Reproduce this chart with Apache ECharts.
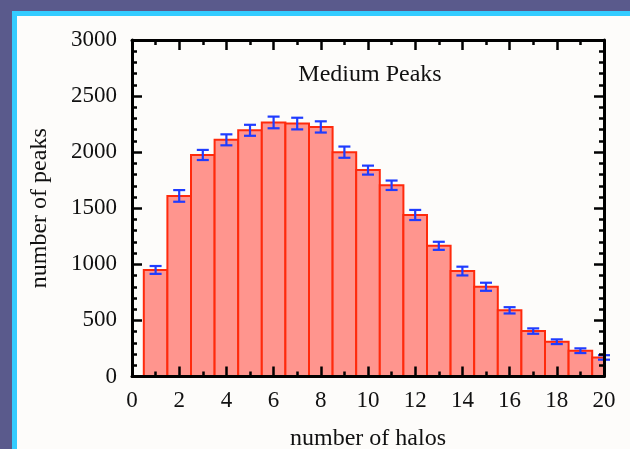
<!DOCTYPE html>
<html>
<head>
<meta charset="utf-8">
<script src="https://cdn.jsdelivr.net/npm/echarts@6/dist/echarts.min.js"></script>
<style>
  html, body { margin: 0; padding: 0; background: #5a5a8c; }
  #frame { position: absolute; left: 12px; top: 11px; width: 618px; height: 438px;
           background: #33ccff; }
  #panel { position: absolute; left: 17px; top: 16px; width: 613px; height: 433px;
           background: #fdfcfa; }
  #chart { position: absolute; left: 0; top: 0; width: 630px; height: 449px; }
</style>
</head>
<body>
<div id="frame"></div>
<div id="panel"></div>
<div id="chart"></div>
<script>
// Histogram of peaks by number of halos, with Poisson-style error bars
const halos = [1, 2, 3, 4, 5, 6, 7, 8, 9, 10, 11, 12, 13, 14, 15, 16, 17, 18, 19, 20];
const peaks = [950, 1610, 1975, 2110, 2195, 2265, 2255, 2225, 2000, 1840,
               1705, 1440, 1165, 940, 800, 590, 405, 310, 230, 170];
const errors = [35, 52, 45, 49, 49, 52, 52, 50, 50, 40,
                42, 45, 36, 39, 36, 28, 24, 21, 21, 20];
const xTicks = [0, 2, 4, 6, 8, 10, 12, 14, 16, 18, 20];
const yTicks = [0, 500, 1000, 1500, 2000, 2500, 3000];

const FONT = '"Liberation Serif", "Times New Roman", serif';
const barData = halos.map((h, i) => [h, peaks[i]]);
const errData = halos.map((h, i) => [h, peaks[i], errors[i]]);

const chart = echarts.init(document.getElementById('chart'), null, { renderer: 'canvas' });

const axisCommon = {
  axisLine: { show: true, onZero: false, lineStyle: { color: '#000', width: 3 } },
  axisTick: { show: true, inside: true, length: 10, lineStyle: { color: '#000', width: 2.5 } },
  minorTick: { show: true, length: 5, lineStyle: { color: '#000', width: 2.5 } },
  splitLine: { show: false },
  minorSplitLine: { show: false },
  z: 10
};

chart.setOption({
  backgroundColor: 'transparent',
  animation: false,
  grid: { left: 132, right: 26, top: 40, bottom: 72.5, containLabel: false, outerBoundsMode: 'none' },
  graphic: [{
    type: 'text', x: 370, y: 63, z: 20,
    style: { text: 'Medium Peaks', font: '24px ' + FONT, fill: '#111', textAlign: 'center' }
  }],
  xAxis: [
    Object.assign({}, axisCommon, {
      type: 'value', position: 'bottom', min: xTicks[0], max: xTicks[xTicks.length - 1], interval: 2,
      minorTick: Object.assign({}, axisCommon.minorTick, { splitNumber: 2 }),
      axisLabel: { color: '#111', fontSize: 23, fontFamily: FONT, margin: 13,
                   formatter: v => xTicks.includes(v) ? String(v) : '' },
      name: 'number of halos', nameLocation: 'middle', nameGap: 50,
      nameTextStyle: { color: '#111', fontSize: 24, fontFamily: FONT }
    }),
    Object.assign({}, axisCommon, {
      type: 'value', position: 'top', min: xTicks[0], max: xTicks[xTicks.length - 1], interval: 2,
      minorTick: Object.assign({}, axisCommon.minorTick, { splitNumber: 2 }),
      axisLabel: { show: false }
    })
  ],
  yAxis: [
    Object.assign({}, axisCommon, {
      type: 'value', position: 'left', min: yTicks[0], max: yTicks[yTicks.length - 1], interval: 500,
      minorTick: Object.assign({}, axisCommon.minorTick, { splitNumber: 5 }),
      axisLabel: { color: '#111', fontSize: 23, fontFamily: FONT, margin: 15,
                   formatter: v => String(v) },
      name: 'number of peaks', nameLocation: 'middle', nameGap: 80, nameRotate: 90,
      nameTextStyle: { color: '#111', fontSize: 24, fontFamily: FONT }
    }),
    Object.assign({}, axisCommon, {
      type: 'value', position: 'right', min: yTicks[0], max: yTicks[yTicks.length - 1], interval: 500,
      minorTick: Object.assign({}, axisCommon.minorTick, { splitNumber: 5 }),
      axisLabel: { show: false }
    })
  ],
  series: [
    {
      // histogram bins of unit width centred on each halo count
      type: 'custom', name: 'peaks', xAxisIndex: 0, yAxisIndex: 0, z: 2,
      data: barData,
      renderItem: (params, api) => {
        const x = api.value(0), y = api.value(1);
        const p0 = api.coord([x - 0.5, y]);
        const p1 = api.coord([x + 0.5, 0]);
        const cs = params.coordSys;
        const shape = echarts.graphic.clipRectByRect(
          { x: p0[0], y: p0[1], width: p1[0] - p0[0], height: p1[1] - p0[1] },
          { x: cs.x, y: cs.y, width: cs.width, height: cs.height });
        if (!shape) return null;
        return { type: 'rect', shape: shape,
                 style: { fill: '#ff958e', stroke: '#ff2a0c', lineWidth: 2 } };
      }
    },
    {
      // error bars with short caps
      type: 'custom', name: 'errors', xAxisIndex: 0, yAxisIndex: 0, z: 3,
      data: errData,
      renderItem: (params, api) => {
        const x = api.value(0), y = api.value(1), e = api.value(2);
        const hi = api.coord([x, y + e]);
        const lo = api.coord([x, y - e]);
        const cap = 6;
        const st = { stroke: '#1f3cff', lineWidth: 2.2 };
        return { type: 'group', children: [
          { type: 'line', shape: { x1: hi[0], y1: hi[1], x2: lo[0], y2: lo[1] }, style: st },
          { type: 'line', shape: { x1: hi[0] - cap, y1: hi[1], x2: hi[0] + cap, y2: hi[1] }, style: st },
          { type: 'line', shape: { x1: lo[0] - cap, y1: lo[1], x2: lo[0] + cap, y2: lo[1] }, style: st }
        ] };
      }
    }
  ]
});
</script>
</body>
</html>
